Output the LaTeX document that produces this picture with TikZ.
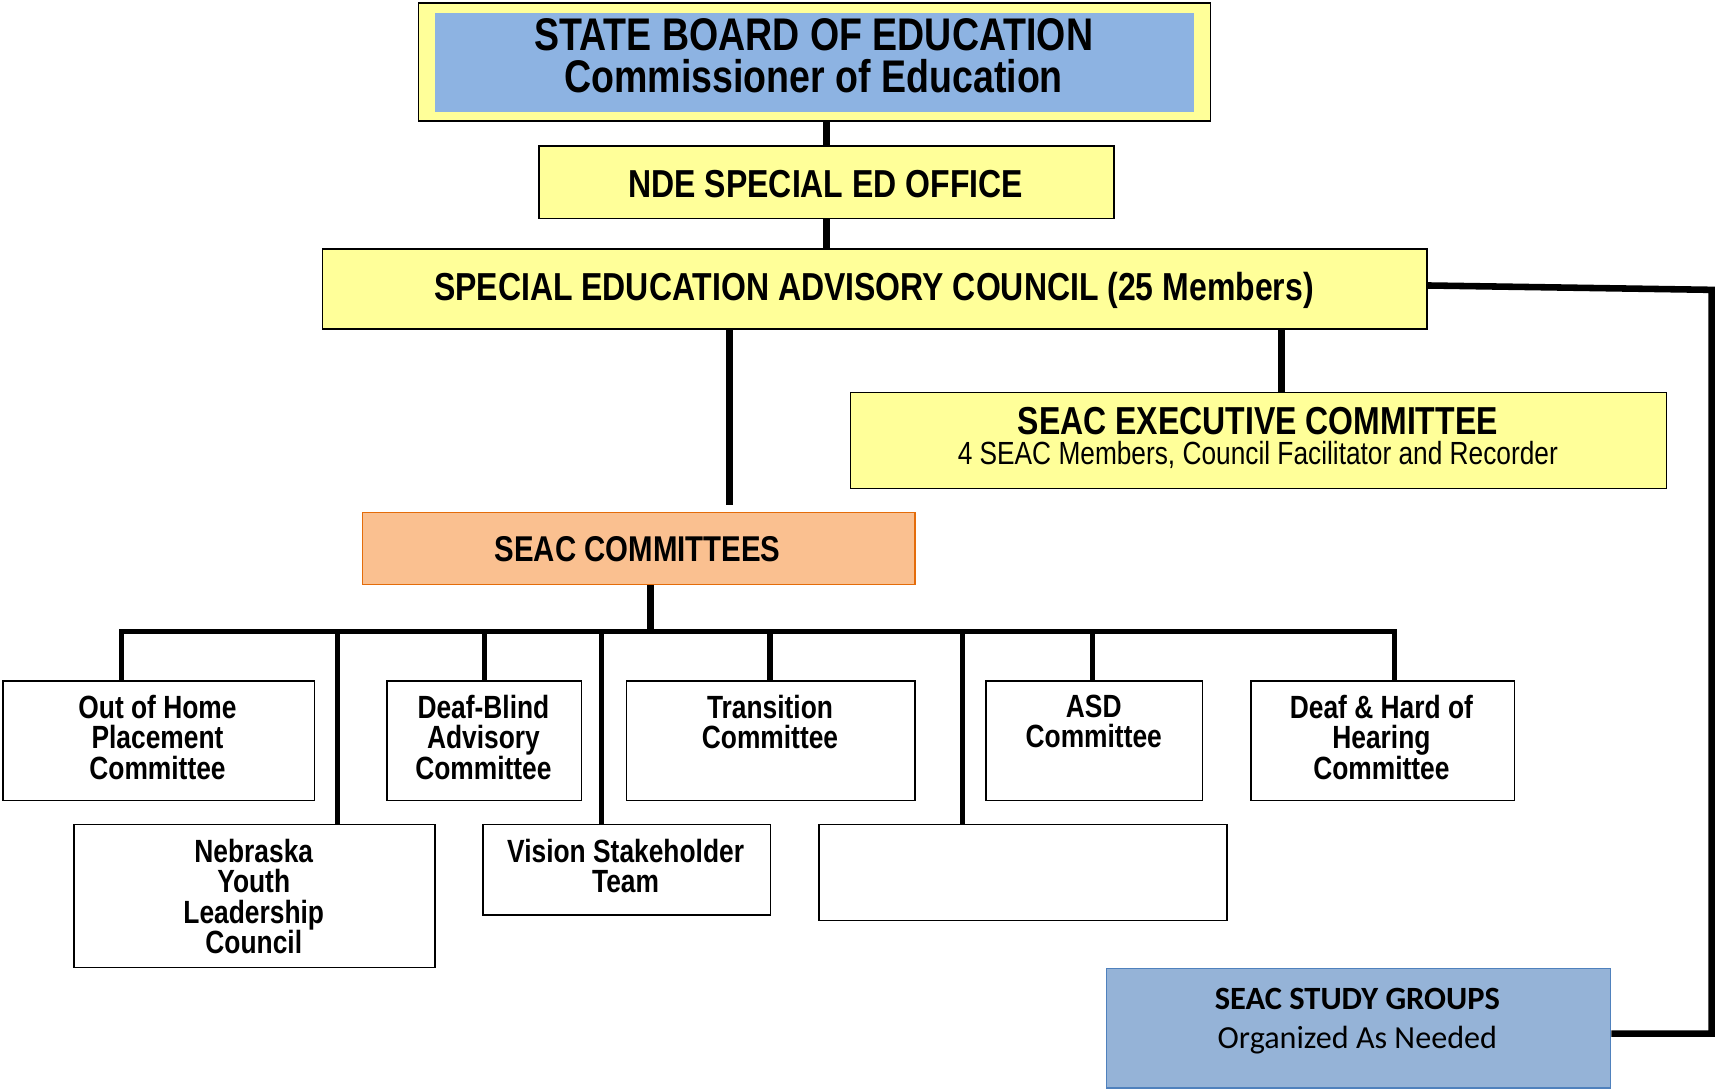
\documentclass[tikz,border=0pt]{standalone}
\usepackage{fontspec}
\setmainfont{Liberation Sans}
\newfontfamily\narrowfont{Liberation Sans}[FakeStretch=0.82]
\newfontfamily\calfont{Carlito}
\definecolor{yel}{HTML}{FFFF99}
\definecolor{blu}{HTML}{8DB3E2}
\definecolor{peach}{HTML}{FAC090}
\definecolor{orng}{HTML}{E46C0A}
\definecolor{studyfill}{HTML}{95B3D7}
\definecolor{studyline}{HTML}{4F81BD}
\begin{document}
\begin{tikzpicture}[x=1bp,y=-1bp,
  box/.style={draw=black, line width=1.3bp, inner sep=0pt, anchor=north west},
  t/.style={inner sep=0pt, anchor=base},
  ct/.style={inner sep=0pt, anchor=north, align=center, font=\narrowfont\bfseries\fontsize{29.5}{28}\selectfont},
  conn/.style={line width=5.5bp, line join=miter, draw=black},
  trunk/.style={conn, line width=6.5bp},
  drop/.style={conn, line width=4.6bp},
  fA/.style={font=\narrowfont\bfseries\fontsize{42}{40}\selectfont},
  fB/.style={font=\narrowfont\bfseries\fontsize{35.8}{36}\selectfont},
]
\useasboundingbox (0,0) rectangle (1568,997);

% top
\node[box, fill=yel, minimum width=724bp, minimum height=108bp] (sbe) at (382,2) {};
\node[box, draw=none, fill=blu, minimum width=694bp, minimum height=91bp] (sbein) at (397,11) {};
\node[t, fA] (sbe1) at (744,46) {STATE BOARD OF EDUCATION};
\node[t, fA] (sbe2) at (744,85) {Commissioner of Education};

\node[box, fill=yel, minimum width=526bp, minimum height=66bp] (nde) at (492,133) {};
\node[t, fB] (ndeT) at (755,180.5) {NDE SPECIAL ED OFFICE};

\node[box, fill=yel, minimum width=1010bp, minimum height=73bp] (council) at (294,227) {};
\node[t, fB] (councilT) at (799,274.5) {SPECIAL EDUCATION ADVISORY COUNCIL (25 Members)};

\node[box, fill=yel, minimum width=746bp, minimum height=88bp] (exec) at (777,358) {};
\node[t, fB] (execT1) at (1150,397.5) {SEAC EXECUTIVE COMMITTEE};
\node[t, font=\narrowfont\fontsize{29.4}{30}\selectfont] (execT2) at (1150,425) {4 SEAC Members, Council Facilitator and Recorder};

\node[box, draw=orng, fill=peach, minimum width=505bp, minimum height=66bp] (comm) at (331,468) {};
\node[t, font=\narrowfont\bfseries\fontsize{32.9}{34}\selectfont] (commT) at (583,513.5) {SEAC COMMITTEES};

% committee boxes
\node[box, fill=white, minimum width=285bp, minimum height=109bp] (ooh) at (2,622) {};
\node[box, fill=white, minimum width=330bp, minimum height=131bp] (nyl) at (67,753) {};
\node[box, fill=white, minimum width=178bp, minimum height=109bp] (dbac) at (353,622) {};
\node[box, fill=white, minimum width=263bp, minimum height=83bp] (vst) at (441,753) {};
\node[box, fill=white, minimum width=264bp, minimum height=109bp] (tc) at (572,622) {};
\node[box, fill=white, minimum width=373bp, minimum height=88bp] (empty) at (748,753) {};
\node[box, fill=white, minimum width=198bp, minimum height=109bp] (asd) at (901,622) {};
\node[box, fill=white, minimum width=241bp, minimum height=109bp] (dhh) at (1143,622) {};

\node[ct] (oohT) at (144,635) {Out of Home\\Placement\\Committee};
\node[ct] (nylT) at (232,767) {Nebraska\\Youth\\Leadership\\Council};
\node[ct] (dbacT) at (442,635) {Deaf-Blind\\Advisory\\Committee};
\node[ct] (vstT) at (572,767) {Vision Stakeholder\\Team};
\node[ct] (tcT) at (704,635) {Transition\\Committee};
\node[ct] (asdT) at (1000,635) {ASD\\Committee};
\node[ct] (dhhT) at (1263,635) {Deaf \& Hard of\\Hearing\\Committee};

% study groups
\node[box, draw=studyline, fill=studyfill, minimum width=461bp, minimum height=109bp] (study) at (1011,885) {};
\node[t, font=\calfont\bfseries\fontsize{29.8}{30}\selectfont] (studyT1) at (1241,923) {SEAC STUDY GROUPS};
\node[t, font=\calfont\fontsize{29.5}{30}\selectfont] (studyT2) at (1241,958.5) {Organized As Needed};

% connectors
\coordinate (cx) at (667,0);
\coordinate (ex) at (1172,0);
\coordinate (dc) at (595,577);
\coordinate (d1) at (111,577);
\coordinate (d2) at (309,577);
\coordinate (d3) at (443,577);
\coordinate (d4) at (550,577);
\coordinate (d5) at (704,577);
\coordinate (d6) at (880,577);
\coordinate (d7) at (999,577);
\coordinate (d8) at (1275,577);
\coordinate (ry) at (0,261);
\coordinate (r1) at (1565,265);
\coordinate (r2) at (1565,945);

\draw[conn] (sbe.south -| nde.north) -- (nde.north);
\draw[conn] (nde.south) -- (nde.south |- council.north);
\draw[trunk, shorten >=6bp] (council.south -| cx) -- (comm.north -| cx);
\draw[trunk] (council.south -| ex) -- (exec.north -| ex);
\draw[trunk] (comm.south -| dc) -- (dc);
\draw[drop] (ooh.north -| d1) -- (d1) -- (d8) -- (dhh.north -| d8);
\draw[drop] (d2) -- (nyl.north -| d2);
\draw[drop] (d3) -- (dbac.north -| d3);
\draw[drop] (d4) -- (vst.north -| d4);
\draw[drop] (d5) -- (tc.north -| d5);
\draw[drop] (d6) -- (empty.north -| d6);
\draw[drop] (d7) -- (asd.north -| d7);
\draw[conn, line width=6bp] (council.east |- ry) -- (r1) -- (r2) -- (study.east |- r2);
\end{tikzpicture}
\end{document}
